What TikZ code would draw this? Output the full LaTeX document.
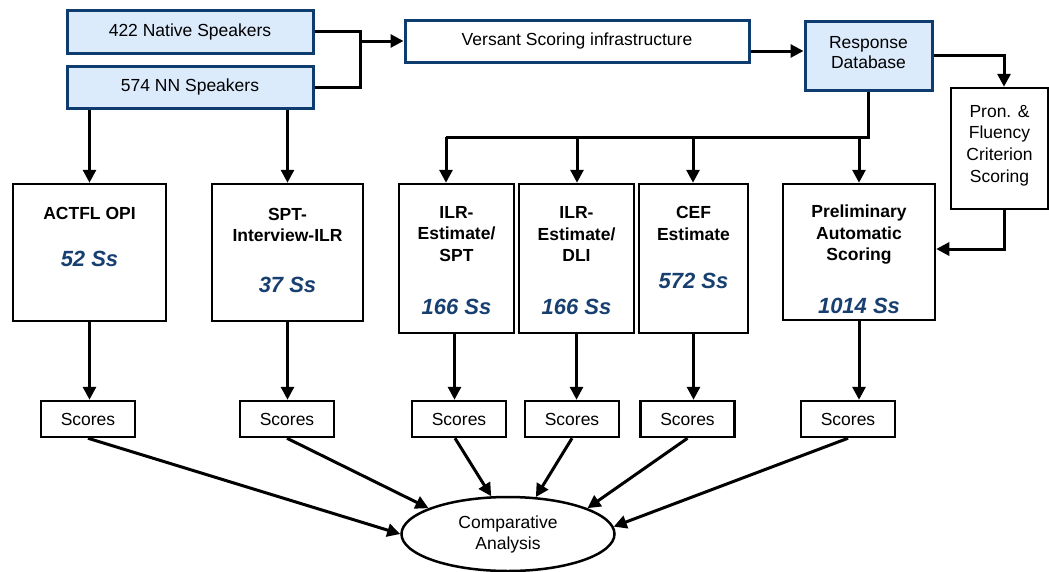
\documentclass[tikz,border=0pt]{standalone}
\usepackage{fontspec}
\setmainfont{Liberation Sans}
\usetikzlibrary{arrows.meta,shapes.geometric}
\definecolor{navy}{HTML}{0E3C6E}
\definecolor{lblue}{HTML}{DCEBFC}
\definecolor{numblue}{HTML}{173F70}
\begin{document}
\begin{tikzpicture}[x=1pt,y=-1pt,
 every node/.style={font=\fontsize{17.5}{21.5}\selectfont, inner sep=0pt},
 bluebox/.style={draw=navy, fill=lblue, line width=3pt},
 whitebox/.style={draw=navy, fill=white, line width=3pt},
 blackbox/.style={draw=black, line width=2.5pt},
 ttl/.style={font=\fontsize{17.5}{21.5}\selectfont\bfseries, align=center},
 num/.style={font=\fontsize{22}{26}\selectfont\bfseries\itshape, text=numblue},
 scorebox/.style={draw=black, line width=2.5pt, minimum width=94pt, minimum height=36pt},
 plain/.style={align=center},
 conn/.style={line width=3pt},
 arr/.style={line width=3pt, -{Triangle[length=13pt,width=13pt]}},
]
\useasboundingbox (0,0) rectangle (1049,571);

% top row
\node[bluebox, minimum width=246pt, minimum height=43pt] (nat) at (190,31.5) {422 Native Speakers};
\node[bluebox, minimum width=246pt, minimum height=42pt] (nn) at (190,87) {574 NN Speakers};
\node[whitebox, minimum width=344pt, minimum height=42pt] (vers) at (577,41) {Versant Scoring infrastructure};
\node[bluebox, minimum width=127pt, minimum height=69pt] (resp) at (868.5,55.5) {};
\node[plain, font=\fontsize{17.5}{20.5}\selectfont] (respT) at (868.5,52.5) {Response\\Database};
\node[blackbox, minimum width=97pt, minimum height=121pt] (pron) at (999.5,148.5) {};
\node[plain, font=\fontsize{17.5}{21.7}\selectfont] (pronT) at (999.5,145.5) {Pron. \&\\Fluency\\Criterion\\Scoring};

% measurement boxes
\node[blackbox, minimum width=153pt, minimum height=137pt] (actfl) at (89.5,252.5) {};
\node[blackbox, minimum width=151pt, minimum height=137pt] (spt) at (287.5,252.5) {};
\node[blackbox, minimum width=115pt, minimum height=149pt] (ilrs) at (456.5,258.5) {};
\node[blackbox, minimum width=115pt, minimum height=149pt] (ilrd) at (576.5,258.5) {};
\node[blackbox, minimum width=109pt, minimum height=149pt] (cef) at (693.5,258.5) {};
\node[blackbox, minimum width=152pt, minimum height=136pt] (prel) at (859,252) {};

\node[ttl] (actflT) at (89.5,213) {ACTFL OPI};
\node[num] (actflN) at (89.5,259) {52 Ss};
\node[ttl] (sptT) at (287.5,225) {SPT-\\Interview-ILR};
\node[num] (sptN) at (287.5,285) {37 Ss};
\node[ttl] (ilrsT) at (456.5,234) {ILR-\\Estimate/\\SPT};
\node[num] (ilrsN) at (456.5,307) {166 Ss};
\node[ttl] (ilrdT) at (576.5,234) {ILR-\\Estimate/\\DLI};
\node[num] (ilrdN) at (576.5,307) {166 Ss};
\node[ttl] (cefT) at (693.5,223.5) {CEF\\Estimate};
\node[num] (cefN) at (693.5,281) {572 Ss};
\node[ttl] (prelT) at (859,235) {Preliminary\\Automatic\\Scoring};
\node[num] (prelN) at (859,306) {1014 Ss};

% scores
\node[scorebox] (s1) at (88,419) {Scores};
\node[scorebox] (s2) at (287,419) {Scores};
\node[scorebox] (s3) at (459,419) {Scores};
\node[scorebox] (s4) at (572,419) {Scores};
\node[scorebox] (s5) at (687.5,419) {Scores};
\node[scorebox] (s6) at (848,419) {Scores};

\node[ellipse, draw, line width=2.5pt, minimum width=213pt, minimum height=74pt, align=center, font=\fontsize{17.5}{21}\selectfont] (ell) at (508,534) {Comparative\\Analysis};

% connectors top
\coordinate (j) at (360,41);
\draw[conn] (nat.east) -| (j) |- (nn.east);
\draw[arr] (j) -- (vers.west);
\draw[arr] ([yshift=-10pt]vers.east) -- ([yshift=-10pt]vers.east -| resp.west);
\draw[arr] (resp.east) -| ([xshift=4.5pt]pron.north);
\draw[arr] ([xshift=4.5pt]pron.south) |- ([yshift=3pt]prel.east);

\coordinate (b1) at (446,137);
\coordinate (b2) at (577,137);
\coordinate (b3) at (693,137);
\coordinate (b4) at (859,137);
\draw[conn] (resp.south) |- (b1);
\draw[arr] (b1) -- (b1 |- ilrs.north);
\draw[arr] (b2) -- (b2 |- ilrd.north);
\draw[arr] (b3) -- (b3 |- cef.north);
\draw[arr] (b4) -- (b4 |- prel.north);

\draw[arr] (nn.south -| actfl.north) -- (actfl.north);
\draw[arr] (nn.south -| spt.north) -- (spt.north);

% boxes to scores
\draw[arr] (actfl.south) -- (actfl.south |- s1.north);
\draw[arr] (spt.south) -- (spt.south |- s2.north);
\draw[arr] ([xshift=-2pt]ilrs.south) -- ([xshift=-2pt]ilrs.south |- s3.north);
\draw[arr] (ilrd.south) -- (ilrd.south |- s4.north);
\draw[arr] (cef.south) -- (cef.south |- s5.north);
\draw[arr] (prel.south) -- (prel.south |- s6.north);

% scores to analysis
\draw[arr] (s1.south) -- (ell.west);
\draw[arr] (s2.south) -- (ell.162);
\draw[arr] ([xshift=-4pt]s3.south) -- (ell.114);
\draw[arr] (s4.south) -- (ell.53);
\draw[arr] (s5.south) -- (ell.18);
\draw[arr] (s6.south) -- (ell.4);
\end{tikzpicture}
\end{document}
